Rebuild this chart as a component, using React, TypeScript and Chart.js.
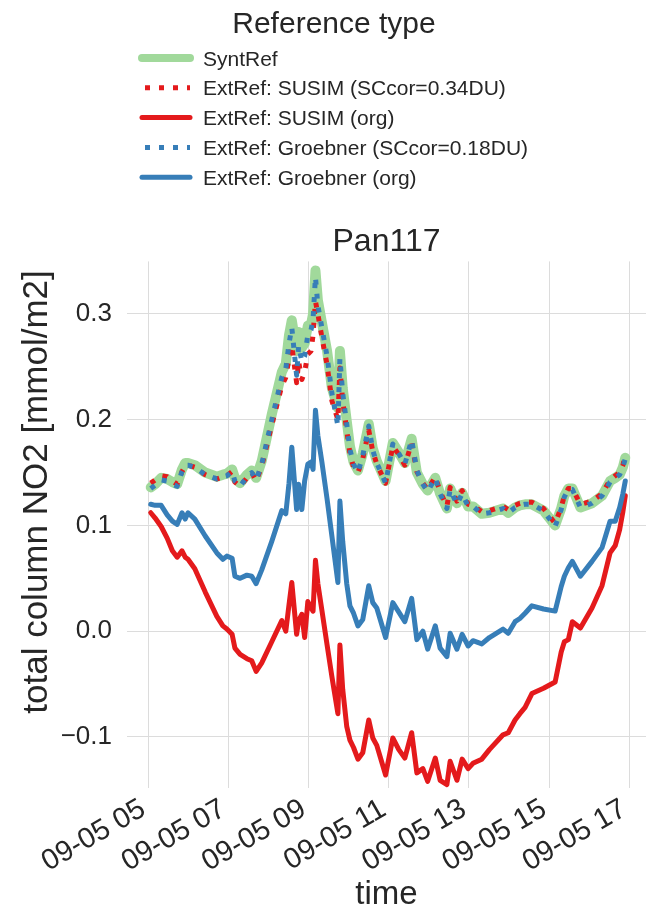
import { useEffect, useRef } from 'react';
import { Chart, registerables } from 'chart.js';

Chart.register(...registerables);

// Measurement times on 2023-09-05, in decimal hours (local time)
const hours = [
  5.06, 5.17, 5.32, 5.47, 5.6, 5.72, 5.84, 5.92, 5.99, 6.16,
  6.42, 6.71, 6.86, 6.96, 7.09, 7.16, 7.29, 7.46, 7.58, 7.69,
  7.83, 8.08, 8.33, 8.43, 8.51, 8.58, 8.7, 8.75, 8.83, 8.9,
  8.98, 9.06, 9.11, 9.17, 9.23, 9.33, 9.46, 9.58, 9.73, 9.78,
  9.85, 9.95, 10.03, 10.12, 10.23, 10.35, 10.5, 10.6, 10.7, 10.92,
  11.1, 11.25, 11.4, 11.57, 11.7, 11.85, 11.97, 12.16, 12.28, 12.45,
  12.53, 12.7, 12.83, 12.98, 13.1, 13.32, 13.51, 13.85, 13.98, 14.15,
  14.27, 14.4, 14.57, 14.86, 15.15, 15.3, 15.38, 15.48, 15.58, 15.78,
  16.07, 16.32, 16.52, 16.65, 16.76, 16.84, 16.9,
];

// Total column NO2 [mmol/m2] for each reference type
const syntRef = [
  0.136, 0.139, 0.145, 0.144, 0.141, 0.139, 0.153, 0.159, 0.159, 0.157,
  0.15, 0.146, 0.148, 0.149, 0.153, 0.145, 0.14, 0.148, 0.152, 0.145,
  0.161, 0.205, 0.245, 0.253, 0.28, 0.294, 0.265, 0.283, 0.268, 0.272,
  0.289, 0.29, 0.3, 0.341, 0.313, 0.292, 0.265, 0.23, 0.211, 0.265,
  0.23, 0.199, 0.175, 0.16, 0.152, 0.168, 0.196, 0.173, 0.161, 0.142,
  0.178, 0.169, 0.159, 0.182, 0.15, 0.139, 0.133, 0.145, 0.13, 0.116,
  0.135, 0.121, 0.131, 0.118, 0.118, 0.111, 0.112, 0.116, 0.112, 0.117,
  0.119, 0.12, 0.12, 0.114, 0.1, 0.116, 0.128, 0.135, 0.135, 0.117,
  0.121, 0.128, 0.142, 0.145, 0.148, 0.155, 0.164,
];

const susimCor = [
  0.14, 0.143, 0.147, 0.146, 0.142, 0.139, 0.151, 0.156, 0.157, 0.155,
  0.148, 0.144, 0.146, 0.147, 0.151, 0.141, 0.137, 0.145, 0.15, 0.142,
  0.156, 0.195, 0.232, 0.24, 0.258, 0.27, 0.235, 0.255, 0.238, 0.245,
  0.262, 0.265, 0.28, 0.312, 0.3, 0.278, 0.252, 0.218, 0.2, 0.249,
  0.218, 0.19, 0.168, 0.155, 0.15, 0.163, 0.19, 0.17, 0.158, 0.14,
  0.175, 0.167, 0.157, 0.178, 0.151, 0.14, 0.134, 0.146, 0.132, 0.118,
  0.136, 0.123, 0.133, 0.12, 0.119, 0.113, 0.114, 0.118, 0.115, 0.119,
  0.121, 0.122, 0.122, 0.116, 0.102, 0.117, 0.128, 0.135, 0.135, 0.12,
  0.123, 0.13, 0.143, 0.147, 0.15, 0.157, 0.166,
];

const susimOrg = [
  0.112, 0.107, 0.099, 0.088, 0.076, 0.07, 0.076, 0.07, 0.068, 0.059,
  0.037, 0.014, 0.005, 0.002, -0.003, -0.016, -0.022, -0.026, -0.028, -0.038,
  -0.03, -0.01, 0.01, 0.0, 0.025, 0.046, -0.003, 0.01, 0.016, -0.006,
  0.028, 0.022, 0.019, 0.067, 0.045, 0.02, -0.013, -0.043, -0.078, -0.013,
  -0.055, -0.09, -0.103, -0.11, -0.121, -0.115, -0.084, -0.101, -0.108, -0.136,
  -0.101, -0.112, -0.12, -0.096, -0.134, -0.13, -0.142, -0.12, -0.141, -0.145,
  -0.123, -0.141, -0.121, -0.13, -0.125, -0.121, -0.112, -0.098, -0.096, -0.084,
  -0.078, -0.072, -0.059, -0.054, -0.048, -0.02, -0.01, -0.008, 0.009, 0.003,
  0.022, 0.043, 0.074, 0.081, 0.096, 0.113, 0.128,
];

const groebnerCor = [
  0.135, 0.138, 0.143, 0.142, 0.139, 0.137, 0.151, 0.157, 0.157, 0.155,
  0.148, 0.144, 0.146, 0.147, 0.151, 0.142, 0.137, 0.146, 0.15, 0.143,
  0.158, 0.2, 0.24, 0.248, 0.272, 0.287, 0.242, 0.27, 0.255, 0.26,
  0.28, 0.285, 0.295, 0.335, 0.308, 0.287, 0.26, 0.225, 0.194, 0.258,
  0.225, 0.196, 0.172, 0.158, 0.15, 0.166, 0.194, 0.171, 0.159, 0.14,
  0.177, 0.168, 0.158, 0.181, 0.152, 0.139, 0.132, 0.145, 0.13, 0.116,
  0.134, 0.12, 0.13, 0.118, 0.118, 0.111, 0.112, 0.116, 0.112, 0.117,
  0.119, 0.12, 0.12, 0.114, 0.099, 0.115, 0.127, 0.134, 0.134, 0.117,
  0.121, 0.128, 0.141, 0.145, 0.148, 0.155, 0.163,
];

const groebnerOrg = [
  0.12, 0.119, 0.119, 0.11, 0.104, 0.101, 0.112, 0.106, 0.112, 0.106,
  0.09, 0.074, 0.068, 0.071, 0.069, 0.052, 0.05, 0.053, 0.052, 0.045,
  0.058, 0.085, 0.114, 0.111, 0.14, 0.174, 0.115, 0.139, 0.115, 0.142,
  0.158, 0.16, 0.153, 0.209, 0.185, 0.16, 0.125, 0.09, 0.046, 0.123,
  0.085, 0.045, 0.024, 0.017, 0.005, 0.011, 0.043, 0.027, 0.022, -0.006,
  0.027, 0.018, 0.009, 0.031, -0.008, 0.0, -0.017, 0.005, -0.016, -0.024,
  -0.002, -0.017, -0.003, -0.014, -0.009, -0.012, -0.006, 0.002, -0.002, 0.009,
  0.012, 0.017, 0.024, 0.021, 0.019, 0.042, 0.052, 0.06, 0.066, 0.052,
  0.066, 0.079, 0.104, 0.104, 0.117, 0.13, 0.142,
];

const seriesNames = [
  'SyntRef',
  'ExtRef: SUSIM (SCcor=0.34DU)',
  'ExtRef: SUSIM (org)',
  'ExtRef: Groebner (SCcor=0.18DU)',
  'ExtRef: Groebner (org)',
];

const xTickHours = [5, 7, 9, 11, 13, 15, 17];
const xTickLabels = ['09-05 05', '09-05 07', '09-05 09', '09-05 11', '09-05 13', '09-05 15', '09-05 17'];
const yTickValues = [-0.1, 0.0, 0.1, 0.2, 0.3];
const yTickLabels = ['\u22120.1', '0.0', '0.1', '0.2', '0.3'];

const FONT = '"Liberation Sans", Arial, Helvetica, sans-serif';
const TEXT = '#262626';
const GRID = '#dcdcdc';
const RED = '#e41a1c';
const BLUE = '#377eb8';
const GREEN = '#a1d99b';

const toPoints = (vals: number[]) => hours.map((h, i) => ({ x: h, y: vals[i] }));

// Vertical legend with title above the axes, plus the rotated y-axis label
const annotationPlugin = {
  id: 'refLegend',
  afterDraw(chart: any) {
    const ctx: CanvasRenderingContext2D = chart.ctx;
    ctx.save();
    ctx.fillStyle = TEXT;
    ctx.textBaseline = 'alphabetic';
    ctx.textAlign = 'center';
    ctx.font = `30px ${FONT}`;
    ctx.fillText('Reference type', 334, 33);

    chart.data.datasets.forEach((ds: any, i: number) => {
      const y = 58 + i * 29.8;
      ctx.save();
      ctx.beginPath();
      ctx.strokeStyle = ds.borderColor;
      ctx.lineWidth = ds.legendWidth ?? ds.borderWidth;
      ctx.lineCap = ds.borderCapStyle || 'butt';
      ctx.setLineDash(ds.borderDash || []);
      ctx.lineDashOffset = ds.borderDash ? -3 : 0;
      ctx.moveTo(142, y);
      ctx.lineTo(190, y);
      ctx.stroke();
      ctx.restore();
      ctx.font = `21px ${FONT}`;
      ctx.textAlign = 'left';
      ctx.fillText(ds.label, 203, y + 7.5);
    });

    ctx.translate(47, 492);
    ctx.rotate(-Math.PI / 2);
    ctx.textAlign = 'center';
    ctx.font = `35px ${FONT}`;
    ctx.fillText('total column NO2 [mmol/m2]', 0, 0);
    ctx.restore();
  },
};

export default function App() {
  const canvasRef = useRef<HTMLCanvasElement>(null);

  useEffect(() => {
    const canvas = canvasRef.current;
    if (!canvas) return;
    const solid = { borderDash: undefined, borderCapStyle: 'round', borderJoinStyle: 'round' };
    const dotted = { borderDash: [5, 9], borderCapStyle: 'butt', borderJoinStyle: 'round' };
    const chart = new Chart(canvas, {
      type: 'line',
      data: {
        datasets: [
          { label: seriesNames[0], data: toPoints(syntRef), borderColor: GREEN, borderWidth: 10, legendWidth: 8, order: 5, ...solid },
          { label: seriesNames[1], data: toPoints(susimCor), borderColor: RED, borderWidth: 5, order: 4, ...dotted },
          { label: seriesNames[2], data: toPoints(susimOrg), borderColor: RED, borderWidth: 5, order: 3, ...solid },
          { label: seriesNames[3], data: toPoints(groebnerCor), borderColor: BLUE, borderWidth: 5, order: 2, ...dotted },
          { label: seriesNames[4], data: toPoints(groebnerOrg), borderColor: BLUE, borderWidth: 5, order: 1, ...solid },
        ] as any,
      },
      options: {
        animation: false,
        responsive: false,
        devicePixelRatio: 1,
        events: [],
        elements: { point: { radius: 0 }, line: { tension: 0, fill: false } },
        layout: { padding: { top: 200, left: 0, right: 0, bottom: 0 } },
        plugins: {
          legend: { display: false },
          tooltip: { enabled: false },
          title: {
            display: true,
            text: 'Pan117',
            fullSize: false,
            color: TEXT,
            font: { family: FONT, size: 32, weight: 'normal' },
            padding: { top: 23, bottom: 0 },
          },
        },
        scales: {
          x: {
            type: 'linear',
            min: 4.468,
            max: 17.417,
            afterBuildTicks: (s: any) => {
              s.ticks = xTickHours.map((v) => ({ value: v }));
            },
            afterFit: (s: any) => {
              s.height = 127;
              s.paddingLeft = 0;
              s.paddingRight = 0;
            },
            grid: { color: GRID, lineWidth: 1, drawTicks: false },
            border: { display: false },
            ticks: {
              autoSkip: false,
              minRotation: 30,
              maxRotation: 30,
              padding: 4,
              labelOffset: -5,
              color: TEXT,
              font: { family: FONT, size: 29 },
              callback: (_v: any, i: number) => xTickLabels[i],
            },
            title: {
              display: true,
              text: 'time',
              color: TEXT,
              font: { family: FONT, size: 33 },
              padding: { top: 0, bottom: 0 },
            },
          },
          y: {
            type: 'linear',
            min: -0.1483,
            max: 0.3497,
            afterBuildTicks: (s: any) => {
              s.ticks = yTickValues.map((v) => ({ value: v }));
            },
            afterFit: (s: any) => {
              s.width = 127;
              s.paddingTop = 0;
              s.paddingBottom = 0;
            },
            grid: { color: GRID, lineWidth: 1, drawTicks: false },
            border: { display: false },
            ticks: {
              padding: 15,
              color: TEXT,
              font: { family: FONT, size: 26 },
              callback: (_v: any, i: number) => yTickLabels[i],
            },
          },
        },
      } as any,
      plugins: [annotationPlugin],
    });
    return () => chart.destroy();
  }, []);

  return (
    <div style={{ position: 'absolute', left: 0, top: 0, width: 646, height: 915, background: '#ffffff' }}>
      <canvas ref={canvasRef} width={646} height={915} style={{ display: 'block' }} />
    </div>
  );
}
